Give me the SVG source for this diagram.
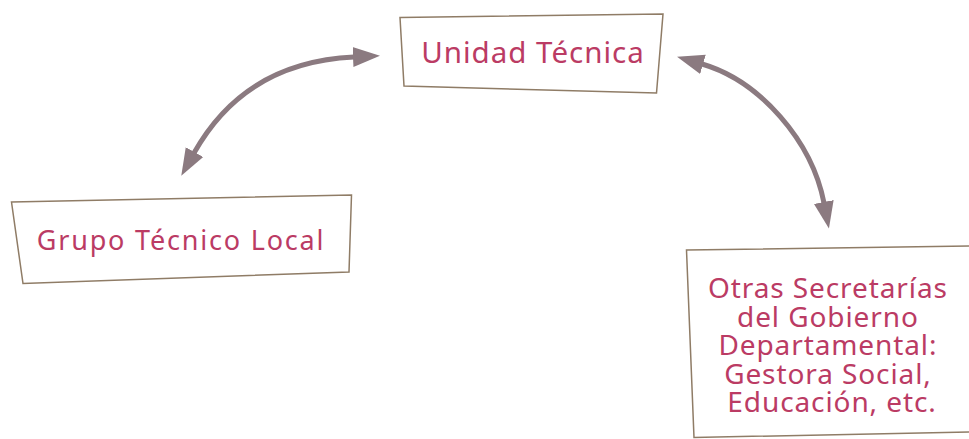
<svg xmlns="http://www.w3.org/2000/svg" width="969" height="439" viewBox="0 0 969 439">
<style>
.box{fill:#ffffff;stroke:#8f7c66;stroke-width:1.5}
.lbl{font-family:"Noto Sans","Open Sans",sans-serif;fill:#bb3b64;text-anchor:middle}
.conn{fill:none;stroke:#8b7a80;stroke-width:5}
</style>
<defs>
<marker id="ah" markerUnits="userSpaceOnUse" markerWidth="30" markerHeight="26" viewBox="0 -13 30 26" refX="1" refY="0" orient="auto-start-reverse">
<path d="M0,-10 L27,0 L0,10 z" fill="#8b7a80"/>
</marker>
</defs>
<rect width="969" height="439" fill="#ffffff"/>
<g id="connectors">
<path class="conn" d="M194,153 Q245,62 354,57" marker-start="url(#ah)" marker-end="url(#ah)"/>
<path class="conn" d="M702,64 C760,81 812,141 824,203" marker-start="url(#ah)" marker-end="url(#ah)"/>
</g>
<g id="unidad">
<path class="box" d="M400,17.5 L663,14 L656.5,93 L404,86 Z"/>
<text class="lbl" x="533" y="63" font-size="29.5" letter-spacing="1">Unidad Técnica</text>
</g>
<g id="grupo">
<path class="box" d="M11.5,202 L351.5,195 L349,272 L23,283.5 Z"/>
<text class="lbl" x="181" y="250" font-size="27" letter-spacing="1.8">Grupo Técnico Local</text>
</g>
<g id="otras">
<path class="box" d="M686.5,250 L972,246 L970,432 L694,437.5 Z"/>
<text class="lbl" font-size="28" letter-spacing="0.9">
<tspan x="832" y="298">Otras Secretarías</tspan>
<tspan x="832" y="326.5">del Gobierno</tspan>
<tspan x="832" y="355">Departamental:</tspan>
<tspan x="832" y="383.5">Gestora Social,</tspan>
<tspan x="832" y="412">Educación, etc.</tspan>
</text>
</g>
</svg>
